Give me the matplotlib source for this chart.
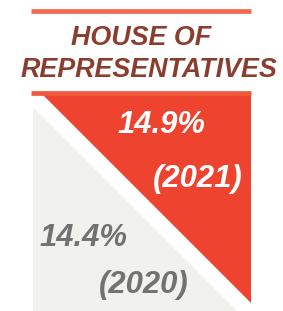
import matplotlib.pyplot as plt
from matplotlib.patches import Polygon

plt.rcParams['font.family'] = ['Liberation Sans', 'DejaVu Sans']

title_lines = ['HOUSE OF', 'REPRESENTATIVES']
years = ['2020', '2021']
shares = [14.4, 14.9]

W, H = 283, 311
fig = plt.figure(figsize=(W / 100, H / 100), dpi=100)
ax = fig.add_axes([0, 0, 1, 1])
ax.set_xlim(0, W)
ax.set_ylim(H, 0)
ax.axis('off')

# rules above and below the title
ax.plot([31, 251], [11, 11], color='#F26A4B', lw=3.4, solid_capstyle='butt')
ax.plot([31, 251], [93, 93], color='#F05A3C', lw=3.4, solid_capstyle='butt')

ax.text(71, 45, title_lines[0], color='#8B3E2E', fontsize=19.4,
        fontweight='bold', fontstyle='italic', ha='left', va='baseline')
ax.text(21, 77, title_lines[1], color='#8B3E2E', fontsize=19.4,
        fontweight='bold', fontstyle='italic', ha='left', va='baseline')

# grey triangle (2020) and red triangle (2021)
ax.add_patch(Polygon([(33, 107), (33, 311), (237, 311)], closed=True,
                     facecolor='#F1F1EE', edgecolor='none'))
ax.add_patch(Polygon([(42, 94), (251, 94), (251, 303)], closed=True,
                     facecolor='#EE432F', edgecolor='none'))

ax.text(117, 133, f'{shares[1]}%', color='white', fontsize=22.3,
        fontweight='bold', fontstyle='italic', ha='left', va='baseline')
ax.text(153, 187, f'({years[1]})', color='white', fontsize=22.3,
        fontweight='bold', fontstyle='italic', ha='left', va='baseline')
ax.text(39, 246, f'{shares[0]}%', color='#727272', fontsize=22.3,
        fontweight='bold', fontstyle='italic', ha='left', va='baseline')
ax.text(99, 293, f'({years[0]})', color='#727272', fontsize=22.3,
        fontweight='bold', fontstyle='italic', ha='left', va='baseline')

fig.savefig('out.png', dpi=100)
